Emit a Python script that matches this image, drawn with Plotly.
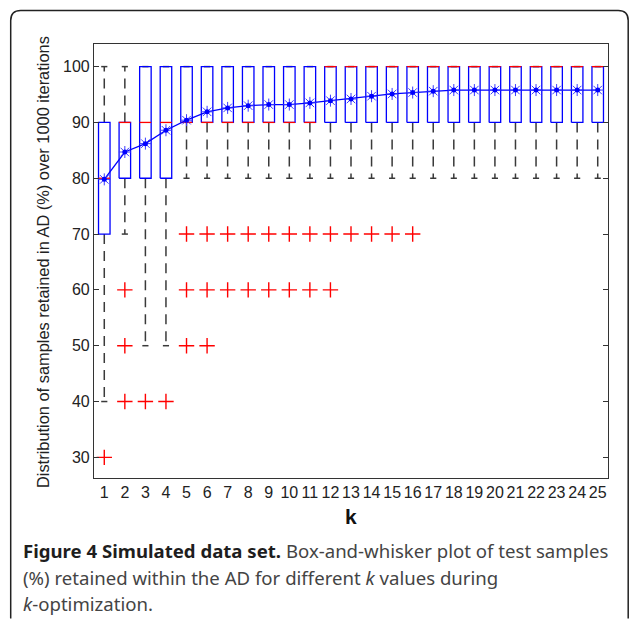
import plotly.graph_objects as go

# ---- data ----
k_values = list(range(1, 26))
q1 = [70, 80, 80, 80] + [90] * 21
q3 = [90, 90, 100, 100] + [100] * 21
medians = [80, 90, 90, 90] + [90] * 7 + [100] * 14
lower_whisker = [40, 70, 50, 50] + [80] * 21
upper_whisker = [100] * 25
means = [79.8, 84.7, 86.2, 88.6, 90.4, 91.9, 92.6, 93.0, 93.2, 93.2, 93.5, 93.9,
         94.2, 94.7, 95.1, 95.35, 95.6, 95.8, 95.8, 95.8, 95.8, 95.8, 95.8, 95.8, 95.8]
outlier_k = [1, 2, 3, 4, 2, 5, 6, 2, 5, 6, 7, 8, 9, 10, 11, 12,
             5, 6, 7, 8, 9, 10, 11, 12, 13, 14, 15, 16]
outlier_v = [30, 40, 40, 40, 50, 50, 50, 60, 60, 60, 60, 60, 60, 60, 60, 60,
             70, 70, 70, 70, 70, 70, 70, 70, 70, 70, 70, 70]
y_ticks = [30, 40, 50, 60, 70, 80, 90, 100]

y_title = "Distribution of samples retained in AD (%) over 1000 iterations"
caption_lines = [
    "<b><span style='color:#1e1e1e'>Figure 4 Simulated data set.</span></b> Box-and-whisker plot of test samples",
    "(%) retained within the AD for different <i>k</i> values during",
    "<i>k</i>-optimization.",
]

# ---- geometry (pixels) ----
W, H = 630, 620
L, R, T, B = 94.3, 608.3, 44.0, 478.3
BOX_HALF = 0.28
CAP_HALF = 0.15


def px(xp):
    return (xp - L) / (R - L)


def py(yp):
    return (B - yp) / (B - T)


# whiskers
wx, wy, cx, cy = [], [], [], []
for k, a, b, lo, hi in zip(k_values, q1, q3, lower_whisker, upper_whisker):
    if hi > b:
        wx += [k, k, None]; wy += [b, hi, None]
    if lo < a:
        wx += [k, k, None]; wy += [a, lo, None]
    cx += [k - CAP_HALF, k + CAP_HALF, None]; cy += [hi, hi, None]
    cx += [k - CAP_HALF, k + CAP_HALF, None]; cy += [lo, lo, None]

bx, by, mx, my = [], [], [], []
for k, a, b, m in zip(k_values, q1, q3, medians):
    bx += [k - BOX_HALF, k + BOX_HALF, k + BOX_HALF, k - BOX_HALF, k - BOX_HALF, None]
    by += [a, a, b, b, a, None]
    mx += [k - BOX_HALF, k + BOX_HALF, None]
    my += [m, m, None]

fig = go.Figure()
fig.add_trace(go.Scatter(x=wx, y=wy, mode="lines", hoverinfo="skip",
                         line=dict(color="#3a3a3a", width=1.5, dash="10px,7px")))
fig.add_trace(go.Scatter(x=cx, y=cy, mode="lines", hoverinfo="skip",
                         line=dict(color="#3a3a3a", width=1.5)))
fig.add_trace(go.Scatter(x=bx, y=by, mode="lines", hoverinfo="skip",
                         line=dict(color="#0000ff", width=1.3)))
fig.add_trace(go.Scatter(x=mx, y=my, mode="lines", hoverinfo="skip",
                         line=dict(color="#ff0000", width=1.3)))
fig.add_trace(go.Scatter(x=outlier_k, y=outlier_v, mode="markers",
                         marker=dict(symbol="cross-thin-open", size=11, color="#ff0000",
                                     line=dict(color="#ff0000", width=1.4))))
fig.add_trace(go.Scatter(x=k_values, y=means, mode="lines+markers",
                         line=dict(color="#0000ff", width=1.3),
                         marker=dict(symbol="asterisk-open", size=10, color="#3b3bff",
                                     line=dict(color="#3b3bff", width=1))))
fig.add_trace(go.Scatter(x=k_values, y=means, mode="markers",
                         marker=dict(symbol="circle", size=5, color="#0000ff")))

fig.update_xaxes(range=[0.5, 25.5], tickmode="array", tickvals=k_values,
                 ticktext=[str(k) for k in k_values], ticks="", showgrid=False,
                 zeroline=False, showline=True, mirror=True, linecolor="#333333",
                 linewidth=1.2, tickfont=dict(family="Liberation Sans", size=16, color="#222222"))
fig.update_yaxes(range=[26.3, 104.05], tickmode="array", tickvals=y_ticks,
                 ticks="inside", ticklen=5, tickcolor="#333333", showgrid=False,
                 zeroline=False, showline=True, mirror="ticks", linecolor="#333333",
                 linewidth=1.2, tickfont=dict(family="Liberation Sans", size=16, color="#222222"))

annotations = [
    dict(text=y_title, xref="paper", yref="paper", x=px(43.5), y=py(262),
         xanchor="center", yanchor="middle", textangle=-90, showarrow=False,
         font=dict(family="Liberation Sans", size=16.4, color="#222222")),
    dict(text="<b>k</b>", xref="paper", yref="paper", x=px(351), y=py(517),
         xanchor="center", yanchor="middle", showarrow=False,
         font=dict(family="Liberation Sans", size=21, color="#111111")),
]
for i, (line, yc) in enumerate(zip(caption_lines, [551, 578, 604])):
    annotations.append(dict(text=line, xref="paper", yref="paper", x=px(21), y=py(yc),
                            xanchor="left", yanchor="middle", showarrow=False,
                            font=dict(family="Noto Sans", size=18.6, color="#444444")))

# outer rounded frame
x0f, x1f, y0f, y1f, r = 11, 628.5, 10.5, 619, 10


def P(x, y):
    return f"{px(x):.5f},{py(y):.5f}"


path = (f"M {P(x0f, y1f)} L {P(x0f, y0f + r)} Q {P(x0f, y0f)} {P(x0f + r, y0f)} "
        f"L {P(x1f - r, y0f)} Q {P(x1f, y0f)} {P(x1f, y0f + r)} L {P(x1f, y1f)}")
shapes = [dict(type="path", xref="paper", yref="paper", path=path,
               line=dict(color="#222222", width=1.5))]

fig.update_layout(width=W, height=H, margin=dict(l=L, r=W - R, t=T, b=H - B),
                  paper_bgcolor="white", plot_bgcolor="white", showlegend=False,
                  annotations=annotations, shapes=shapes)

fig.write_html("out.html", config={"displayModeBar": False},
               post_script="document.body.style.margin='0px';document.body.style.overflow='hidden';")
